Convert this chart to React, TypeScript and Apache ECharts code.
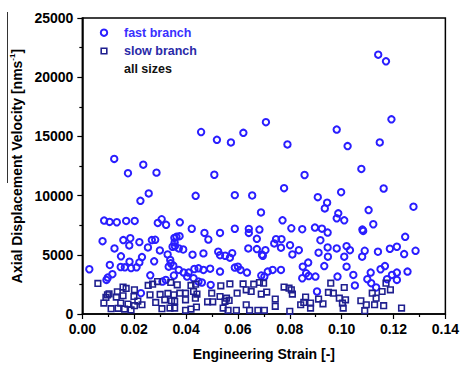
import React, { useEffect, useRef } from "react";
import * as echarts from "echarts";

// Engineering strain [-], axial displacement velocity [nm/s]
const fastBranch: [number, number][] = [
  [0.0123, 13100], [0.0176, 11890], [0.0235, 12610], [0.0286, 11940], [0.0458, 15370],
  [0.0519, 14710], [0.0573, 14490], [0.0509, 11760], [0.0621, 15300], [0.0708, 16200],
  [0.0791, 14320], [0.0857, 11740], [0.0981, 15580], [0.1023, 14180], [0.1076, 12250],
  [0.1141, 21900], [0.1171, 21340], [0.1147, 14490], [0.1192, 16440],
  [0.0256, 10180], [0.0224, 9560], [0.0437, 9980], [0.0588, 10040], [0.0655, 10010],
  [0.0778, 10630], [0.0908, 9870], [0.0944, 9400], [0.0935, 8920], [0.0689, 8580],
  [0.0998, 10290], [0.1162, 10600], [0.0987, 8500], [0.0981, 8080], [0.1010, 7910],
  [0.1104, 8780], [0.1277, 9060], [0.1122, 7580], [0.1080, 7130],
  [0.0084, 7890], [0.0105, 7780], [0.0133, 7750], [0.0169, 7860], [0.0202, 7860],
  [0.0291, 7690], [0.0306, 8000], [0.0323, 7530], [0.0376, 7740], [0.0422, 7200], [0.0772, 7910],
  [0.0471, 6850], [0.0531, 6850], [0.0588, 7200], [0.0642, 7190], [0.0642, 6850],
  [0.0683, 7130], [0.0806, 7240], [0.0848, 7160], [0.0897, 7300], [0.0924, 7210],
  [0.0946, 6880], [0.1083, 7020], [0.1245, 6520],
  [0.0078, 6150], [0.0158, 6240], [0.0185, 6400], [0.0181, 5790], [0.0220, 6070],
  [0.0268, 6240], [0.0281, 6270], [0.0355, 6430], [0.0363, 6520], [0.0375, 6570],
  [0.0356, 6040], [0.0486, 6290], [0.0673, 6350], [0.0747, 6320], [0.0768, 6320],
  [0.0740, 5960], [0.0918, 6230],
  [0.0124, 5540], [0.0253, 5620], [0.0299, 5370], [0.0348, 5680], [0.0357, 5730],
  [0.0372, 5540], [0.0389, 5450], [0.0329, 5030], [0.0425, 5010], [0.0467, 5120],
  [0.0524, 5260], [0.0531, 4970], [0.0551, 4920], [0.0569, 4760], [0.0578, 5140],
  [0.0640, 5540], [0.0673, 5480], [0.0693, 5010], [0.0706, 5390], [0.0696, 4920],
  [0.0766, 5600], [0.0801, 5810], [0.0810, 5030], [0.0835, 5390], [0.0946, 5620],
  [0.0981, 5540], [0.1019, 5730], [0.1032, 5390], [0.1089, 5340], [0.1140, 5260],
  [0.1186, 5510], [0.1213, 5680], [0.1241, 5060], [0.1285, 5340], [0.0947, 4840],
  [0.1010, 4840], [0.1079, 4840], [0.0911, 5180],
  [0.0149, 4870], [0.0230, 4810], [0.0182, 4420], [0.0220, 4360], [0.0106, 4140],
  [0.0277, 4450], [0.0339, 4560], [0.0341, 4280], [0.0351, 4090], [0.0333, 4000],
  [0.0600, 4000], [0.0850, 4000], [0.0871, 4340], [0.0933, 4050], [0.1019, 4000],
  [0.1167, 4050],
  [0.0027, 3780], [0.0148, 3970], [0.0164, 3940], [0.0188, 3880], [0.0209, 3940],
  [0.0116, 3360], [0.0098, 3080], [0.0093, 2880], [0.0262, 3270], [0.0372, 3720],
  [0.0391, 3500], [0.0410, 3500], [0.0432, 3800], [0.0448, 3860], [0.0467, 3720],
  [0.0493, 3830], [0.0531, 3580], [0.0588, 3920], [0.0610, 3720], [0.0635, 3500],
  [0.0690, 3250], [0.0353, 3250], [0.0404, 3160], [0.0429, 3020], [0.0734, 3720],
  [0.0766, 3720], [0.0715, 3580], [0.0863, 3440], [0.0873, 3210], [0.0899, 3160],
  [0.0984, 3160], [0.0702, 3160], [0.0848, 3020], [0.1045, 3300], [0.1112, 3500],
  [0.1150, 3780], [0.1099, 2940], [0.1175, 2940], [0.1194, 3300], [0.1213, 3500],
  [0.1213, 2880], [0.1254, 3580],
  [0.0322, 2880], [0.0309, 2740], [0.0448, 2740], [0.0461, 2660], [0.0495, 2460],
  [0.0226, 1760], [0.0905, 1900], [0.1051, 2410], [0.1114, 2600], [0.1133, 2240],
];

const slowBranch: [number, number][] = [
  [0.0060, 2580], [0.0157, 2270], [0.0135, 1870], [0.0169, 2160], [0.0201, 2040],
  [0.0103, 1700], [0.0091, 1400], [0.0083, 920], [0.0131, 1430], [0.0157, 1540],
  [0.0199, 1480], [0.0214, 1090], [0.0148, 920], [0.0176, 840], [0.0111, 450],
  [0.0138, 480], [0.0163, 420], [0.0188, 340], [0.0201, 700], [0.0230, 780],
  [0.0254, 2410], [0.0271, 2520], [0.0290, 2740], [0.0261, 1620], [0.0300, 1650],
  [0.0283, 980], [0.0318, 1200], [0.0330, 1740], [0.0344, 1120], [0.0338, 500],
  [0.0307, 450], [0.0097, 1620],
  [0.0341, 2660], [0.0366, 2460], [0.0419, 2410], [0.0437, 2520], [0.0398, 1760],
  [0.0534, 2380], [0.0569, 2540], [0.0620, 2540], [0.0661, 2520], [0.0683, 2660],
  [0.0353, 1620], [0.0376, 1760], [0.0429, 1900], [0.0442, 1680], [0.0356, 1070],
  [0.0398, 1200], [0.0436, 1340], [0.0499, 1760], [0.0531, 1480], [0.0550, 1070],
  [0.0566, 1150], [0.0597, 1760], [0.0632, 2040], [0.0651, 1900], [0.0483, 1030],
  [0.0503, 1030], [0.0356, 500], [0.0398, 310], [0.0419, 420], [0.0440, 590],
  [0.0543, 500], [0.0562, 310], [0.0594, 310], [0.0645, 310], [0.0677, 310],
  [0.0632, 780], [0.0556, 1340],
  [0.0699, 2600], [0.0778, 2270], [0.0806, 2040], [0.0958, 2600], [0.1010, 2240],
  [0.0711, 1850], [0.0810, 1680], [0.0690, 1680], [0.0949, 1820], [0.0968, 1760],
  [0.0991, 1340], [0.1015, 1200], [0.0744, 1260], [0.0861, 1430], [0.0911, 1260],
  [0.0854, 980], [0.0880, 920], [0.0928, 860], [0.0744, 650], [0.0880, 500],
  [0.0702, 310], [0.0800, 230], [0.0797, 2180], [0.0842, 780], [0.1003, 920],
  [0.1006, 500],
  [0.1171, 2600], [0.1118, 1760], [0.1156, 1900], [0.1188, 2040], [0.1133, 1340],
  [0.1074, 1120], [0.1095, 780], [0.1127, 780], [0.1162, 700], [0.1089, 280],
  [0.1231, 500],
];

const xTicks = { min: 0, max: 0.14, interval: 0.02 };
const yTicks = { min: 0, max: 25000, interval: 5000 };

const legendLabels = ["fast branch", "slow branch", "all sizes"];
const xTitle = "Engineering Strain [-]";

const FONT = "'Liberation Sans', Arial, sans-serif";
const FAST = "#2a1eff";
const SLOW = "#1f1f8f";

export default function App() {
  const ref = useRef<HTMLDivElement>(null);
  useEffect(() => {
    if (!ref.current) return;
    const chart = echarts.init(ref.current, null, { renderer: "svg" });
    const axisCommon = {
      axisLine: { show: true, lineStyle: { color: "#000", width: 1.5 } },
      axisTick: { show: true, inside: false, length: 5, lineStyle: { color: "#000", width: 1.2 } },
      minorTick: { show: true, splitNumber: 2, length: 3, lineStyle: { color: "#000", width: 1.2 } },
      splitLine: { show: false },
    };
    chart.setOption({
      animation: false,
      backgroundColor: "#fff",
      textStyle: { fontFamily: FONT },
      grid: {
        left: 81, right: 14, top: 18, bottom: 50,
        show: true, borderColor: "#000", borderWidth: 1.5, backgroundColor: "transparent",
      },
      xAxis: {
        type: "value",
        ...xTicks,
        ...axisCommon,
        axisLabel: {
          margin: 8, color: "#000", fontSize: 14, fontWeight: "bold", fontFamily: FONT,
          formatter: (v: number) => v.toFixed(2),
        },
        name: xTitle,
        nameLocation: "middle",
        nameGap: 33,
        nameTextStyle: { color: "#000", fontSize: 14, fontWeight: "bold", fontFamily: FONT },
      },
      yAxis: {
        type: "value",
        ...yTicks,
        ...axisCommon,
        axisLabel: {
          margin: 9, color: "#000", fontSize: 14, fontWeight: "bold", fontFamily: FONT,
          formatter: (v: number) => String(v),
        },
        name: "Axial Displacement Velocity [nms{sup|-1}]",
        nameLocation: "middle",
        nameGap: 57,
        nameTextStyle: {
          color: "#000", fontSize: 14, fontWeight: "bold", fontFamily: FONT,
          rich: { sup: { fontSize: 8, fontWeight: "bold", color: "#000", padding: [0, 0, 9, 0] } },
        },
      },
      series: [
        {
          name: legendLabels[0],
          type: "scatter",
          data: fastBranch,
          symbol: "circle",
          symbolSize: 6.4,
          itemStyle: { color: "rgba(0,0,0,0)", borderColor: FAST, borderWidth: 2, opacity: 1 },
        },
        {
          name: legendLabels[1],
          type: "scatter",
          data: slowBranch,
          symbol: "rect",
          symbolSize: 5.6,
          itemStyle: { color: "rgba(0,0,0,0)", borderColor: SLOW, borderWidth: 1.6, opacity: 1 },
        },
      ],
      graphic: [
        { type: "circle", shape: { cx: 104, cy: 32.7, r: 3.2 }, style: { fill: "none", stroke: FAST, lineWidth: 2 } },
        { type: "rect", shape: { x: 101.2, y: 48.2, width: 5.6, height: 5.6 }, style: { fill: "none", stroke: SLOW, lineWidth: 1.6 } },
        { type: "text", x: 124, y: 33, style: { text: legendLabels[0], fill: "#3a2fff", font: `bold 12.5px ${FONT}`, verticalAlign: "middle" } },
        { type: "text", x: 124, y: 51, style: { text: legendLabels[1], fill: "#2a2aa8", font: `bold 12.5px ${FONT}`, verticalAlign: "middle" } },
        { type: "text", x: 124, y: 68.5, style: { text: legendLabels[2], fill: "#111", font: `bold 12.5px ${FONT}`, verticalAlign: "middle" } },
        { type: "line", shape: { x1: 7.5, y1: 12, x2: 7.5, y2: 183 }, style: { stroke: "#333", lineWidth: 1 } },
      ],
    });
    return () => chart.dispose();
  }, []);
  return <div ref={ref} style={{ position: "fixed", left: 0, top: 0, width: 462, height: 366 }} />;
}
